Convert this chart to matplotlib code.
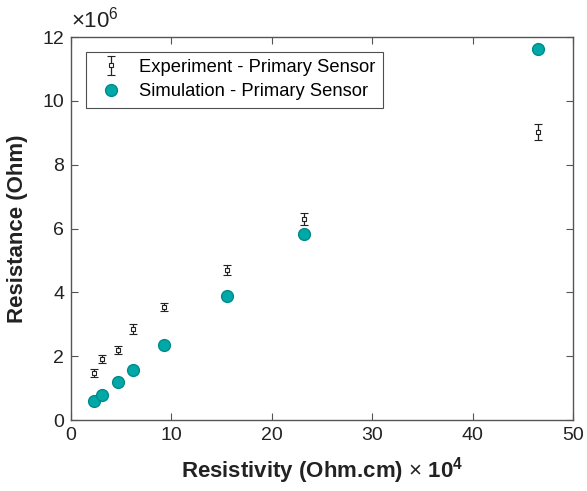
import matplotlib
matplotlib.use("Agg")
import matplotlib.pyplot as plt
from matplotlib.ticker import FuncFormatter

plt.rcParams['font.family'] = ['Liberation Sans', 'DejaVu Sans']
plt.rcParams['mathtext.fontset'] = 'custom'
plt.rcParams['mathtext.rm'] = 'Liberation Sans'
plt.rcParams['mathtext.bf'] = 'Liberation Sans:bold'

# Resistivity (x 10^4 Ohm.cm)
resistivity = [2.3, 3.1, 4.7, 6.2, 9.3, 15.5, 23.2, 46.5]
# Measured resistance (Ohm) with error bars
exp_resistance = [1.47e6, 1.91e6, 2.19e6, 2.85e6, 3.54e6, 4.70e6, 6.30e6, 9.03e6]
exp_error = [0.12e6, 0.13e6, 0.13e6, 0.15e6, 0.13e6, 0.16e6, 0.20e6, 0.25e6]
# Simulated resistance (Ohm)
sim_resistance = [0.60e6, 0.78e6, 1.19e6, 1.57e6, 2.35e6, 3.89e6, 5.83e6, 11.63e6]

x_ticks = [0, 10, 20, 30, 40, 50]
y_ticks = [0, 2e6, 4e6, 6e6, 8e6, 10e6, 12e6]

fig = plt.figure(figsize=(5.87, 4.91), dpi=100)
ax = fig.add_axes([0.121, 0.1446, 0.855, 0.780])

h_exp = ax.errorbar(resistivity, exp_resistance, yerr=exp_error, fmt='s',
                    markersize=3.5, markerfacecolor='white',
                    markeredgecolor='#222222', markeredgewidth=0.8,
                    ecolor='#222222', elinewidth=0.9, capsize=3,
                    capthick=0.9, label='Experiment - Primary Sensor', zorder=3)
h_sim, = ax.plot(resistivity, sim_resistance, 'o', markersize=8.5,
                 markerfacecolor='#00a8a8', markeredgecolor='#008a8a',
                 markeredgewidth=1.0, linestyle='none',
                 label='Simulation - Primary Sensor', zorder=4)

ax.set_xlim(0, 50)
ax.set_ylim(0, 12e6)
ax.set_xticks(x_ticks)
ax.set_yticks(y_ticks)
ax.yaxis.set_major_formatter(FuncFormatter(lambda v, p: f"{v/1e6:g}"))

for side in ax.spines.values():
    side.set_color('#555555')
    side.set_linewidth(1.0)
ax.tick_params(direction='in', length=5, width=0.8, color='#555555',
               labelsize=14, labelcolor='#222222', top=True, right=True, pad=5)

ax.text(0.0, 1.012, r'$\times10^{6}$', transform=ax.transAxes,
        fontsize=16, color='#222222', ha='left', va='bottom')

ax.set_xlabel(r'Resistivity (Ohm.cm) $\times$ $\mathbf{10^{4}}$',
              fontsize=16, fontweight='bold', color='#222222', labelpad=8)
ax.set_ylabel('Resistance (Ohm)', fontsize=16, fontweight='bold',
              color='#222222', labelpad=10)

leg = ax.legend(handles=[h_exp, h_sim], loc='upper left',
                bbox_to_anchor=(0.03, 0.962), fontsize=13.2,
                frameon=True, fancybox=False, edgecolor='#222222',
                borderpad=0.4, handletextpad=0.6, labelspacing=0.4,
                borderaxespad=0.0, handlelength=1.9)
leg.get_frame().set_linewidth(0.8)

fig.savefig('out.png', dpi=100)
